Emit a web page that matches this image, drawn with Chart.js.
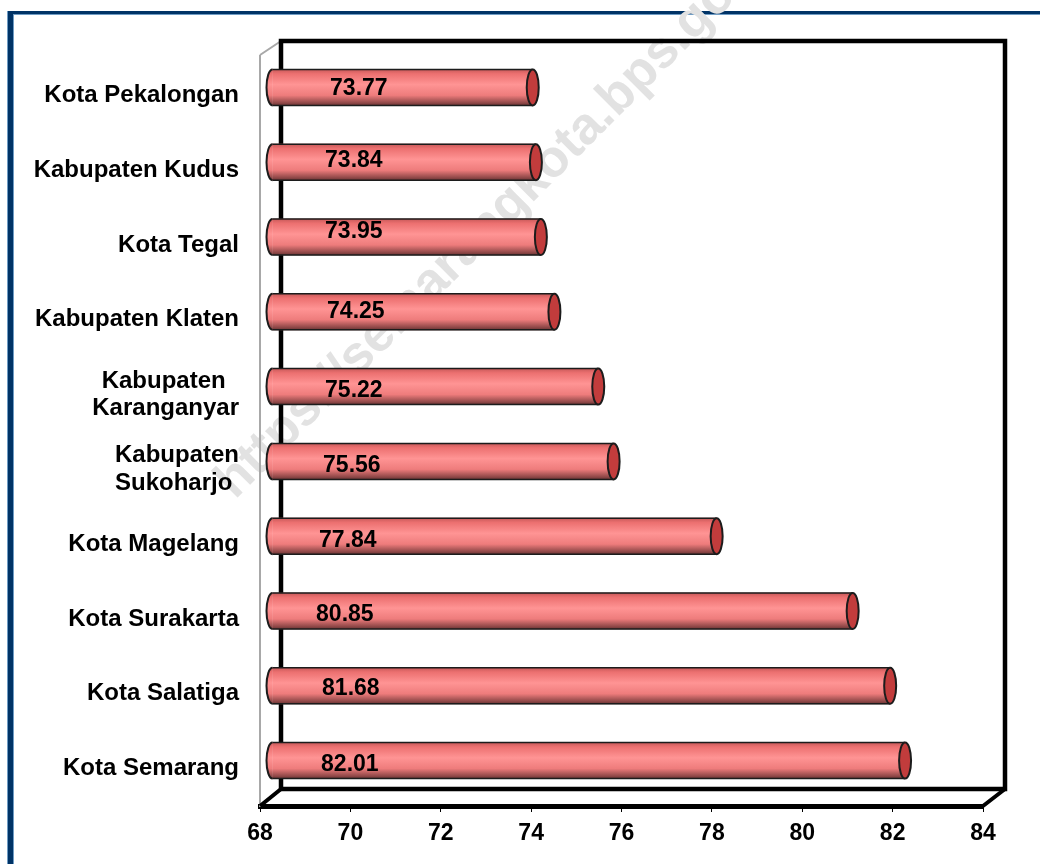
<!DOCTYPE html>
<html>
<head>
<meta charset="utf-8">
<style>
  html, body { margin: 0; padding: 0; background: #fff; }
  #wrap { position: relative; width: 1040px; height: 864px; overflow: hidden; }
  canvas { display: block; }
</style>
<script src="https://cdn.jsdelivr.net/npm/chart.js@4"></script>
</head>
<body>
<div id="wrap"><canvas id="chart" width="1040" height="864"></canvas></div>
<script>
// Regions ordered from top to bottom of the chart
const regions = [
  'Kota Pekalongan', 'Kabupaten Kudus', 'Kota Tegal', 'Kabupaten Klaten',
  ['Kabupaten  ', 'Karanganyar'], ['Kabupaten', 'Sukoharjo '],
  'Kota Magelang', 'Kota Surakarta', 'Kota Salatiga', 'Kota Semarang'
];
const scores = [73.77, 73.84, 73.95, 74.25, 75.22, 75.56, 77.84, 80.85, 81.68, 82.01];
const axisTicks = [68, 70, 72, 74, 76, 78, 80, 82, 84];

// Hand-tuned nudges for the value captions, in pixels from their default spot
const captionNudgeX = [9, 4, 4, 6, 4, 2, -2, -5, 1, 0];
const captionNudgeY = [-1, -4, -7, -2, 2, 2, 2, 2, 1, 2];

const FONT = '"Liberation Sans", Arial, sans-serif';
const DEPTH_X = 21, DEPTH_Y = 14;      // box depth of the 3D frame
const FRAME_RISE = 3;                  // front edge of the box stands above the category band
const BAR_DX = 12, BAR_DY = -8;        // bars sit halfway into the box
const BAR_H = 36, CAP_RX = 6;

function barGradient(ctx, yMid) {
  const top = yMid - BAR_H / 2, g = ctx.createLinearGradient(0, top, 0, top + BAR_H);
  g.addColorStop(0, '#c85a5a');
  g.addColorStop(0.12, '#ec7070');
  g.addColorStop(0.42, '#ff9494');
  g.addColorStop(0.72, '#ee7c7c');
  g.addColorStop(0.93, '#904848');
  g.addColorStop(1, '#6a3434');
  return g;
}

// Frame and caps drawn around the library's own bars
const frame3d = {
  id: 'frame3d',
  beforeDatasetsDraw(chart) {
    const { ctx, chartArea: a } = chart;
    ctx.save();

    const frontTop = a.top - FRAME_RISE;
    const bl = a.left + DEPTH_X, br = a.right + DEPTH_X + 1;
    const bt = frontTop - DEPTH_Y, bb = a.bottom - DEPTH_Y - 3;

    // left wall, gray
    ctx.strokeStyle = '#a8a8a8';
    ctx.lineWidth = 2;
    ctx.beginPath();
    ctx.moveTo(a.left, frontTop);
    ctx.lineTo(bl, bt);
    ctx.moveTo(a.left, frontTop);
    ctx.lineTo(a.left, a.top);
    ctx.stroke();

    // back wall and floor
    ctx.strokeStyle = '#000';
    ctx.lineWidth = 4.5;
    ctx.lineJoin = 'miter';
    ctx.beginPath();
    ctx.rect(bl, bt, br - bl, bb - bt);
    ctx.stroke();

    ctx.lineWidth = 4;
    ctx.beginPath();
    ctx.moveTo(a.left, a.bottom);
    ctx.lineTo(bl, bb);
    ctx.moveTo(a.right, a.bottom);
    ctx.lineTo(br, bb);
    ctx.stroke();
    ctx.restore();

    // shift the bars into the depth of the box
    ctx.save();
    ctx.translate(BAR_DX, BAR_DY);
  },
  afterDatasetsDraw(chart) {
    const { ctx } = chart;
    const meta = chart.getDatasetMeta(0);
    meta.data.forEach((bar) => {
      const ry = BAR_H / 2, top = bar.y - ry, bottom = bar.y + ry;

      // rounded far end of the tube
      ctx.beginPath();
      ctx.ellipse(bar.base, bar.y, CAP_RX, ry, 0, Math.PI / 2, Math.PI * 1.5);
      ctx.fillStyle = barGradient(ctx, bar.y);
      ctx.fill();
      ctx.strokeStyle = '#1c1c1c';
      ctx.lineWidth = 2;
      ctx.stroke();

      // long edges
      ctx.lineWidth = 1.5;
      ctx.beginPath();
      ctx.moveTo(bar.base, top);
      ctx.lineTo(bar.x, top);
      ctx.moveTo(bar.base, bottom);
      ctx.lineTo(bar.x, bottom);
      ctx.stroke();

      // dark open cap at the value end
      ctx.beginPath();
      ctx.ellipse(bar.x, bar.y, CAP_RX, ry, 0, 0, Math.PI * 2);
      ctx.fillStyle = '#c23c3c';
      ctx.fill();
      ctx.lineWidth = 2;
      ctx.stroke();
    });
    ctx.restore();

    // value captions
    ctx.save();
    ctx.font = 'bold 23px ' + FONT;
    ctx.fillStyle = '#000';
    ctx.textAlign = 'center';
    ctx.textBaseline = 'middle';
    meta.data.forEach((bar, i) => {
      ctx.fillText(scores[i].toFixed(2), chart.scales.x.getPixelForValue(69.9) + 4 + captionNudgeX[i],
        bar.y + BAR_DY + captionNudgeY[i] + 2);
    });
    ctx.restore();
  }
};

// Page panel: white ground, left and top rules, site watermark under the axes
const panelRules = {
  id: 'panelRules',
  beforeDraw(chart) {
    const { ctx, width, height } = chart;
    ctx.save();
    ctx.fillStyle = '#ffffff';
    ctx.fillRect(0, 0, width, height);
    ctx.fillStyle = '#6f9cc4';
    ctx.fillRect(7, 11, 7, height - 11);
    ctx.fillRect(7, 11, width - 7, 4);
    ctx.fillStyle = '#003366';
    ctx.fillRect(8, 11, 5, height - 11);
    ctx.fillRect(8, 11, width - 8, 3);

    ctx.translate(235, 500);
    ctx.rotate(-Math.PI / 4);
    ctx.font = 'bold 52px ' + FONT;
    ctx.fillStyle = '#e2e2e2';
    ctx.textAlign = 'left';
    ctx.textBaseline = 'alphabetic';
    ctx.fillText('https://semarangkota.bps.go.id', 0, 0);
    ctx.restore();
  }
};

new Chart(document.getElementById('chart'), {
  type: 'bar',
  data: {
    labels: regions,
    datasets: [{
      data: scores,
      base: 68,
      barThickness: BAR_H,
      clip: false,
      borderWidth: 0,
      backgroundColor: (c) => {
        const yMid = c.chart.scales.y ? c.chart.scales.y.getPixelForValue(c.dataIndex) : NaN;
        return Number.isFinite(yMid) ? barGradient(c.chart.ctx, yMid) : '#ff9494';
      }
    }]
  },
  options: {
    indexAxis: 'y',
    responsive: false,
    animation: false,
    layout: { padding: { top: 58, right: 57, left: 0, bottom: 0 } },
    plugins: { legend: { display: false }, tooltip: { enabled: false } },
    scales: {
      x: {
        min: 68,
        max: 84,
        afterFit(s) { s.height = 58; },
        afterBuildTicks(s) { s.ticks = axisTicks.map((v) => ({ value: v })); },
        grid: { drawOnChartArea: false, drawTicks: true, tickLength: 6, tickColor: '#000', tickWidth: 1 },
        border: { display: true, color: '#000', width: 5 },
        ticks: {
          color: '#000',
          padding: 8,
          autoSkip: false,
          maxRotation: 0,
          font: { family: FONT, size: 23, weight: 'bold' }
        }
      },
      y: {
        afterFit(s) { s.width = 260; },
        grid: { display: false },
        border: { display: true, color: '#a8a8a8', width: 2 },
        ticks: {
          color: '#000',
          padding: 13,
          autoSkip: false,
          font: { family: FONT, size: 24, weight: 'bold', lineHeight: 1.13 }
        }
      }
    }
  },
  plugins: [panelRules, frame3d]
});
</script>
</body>
</html>
